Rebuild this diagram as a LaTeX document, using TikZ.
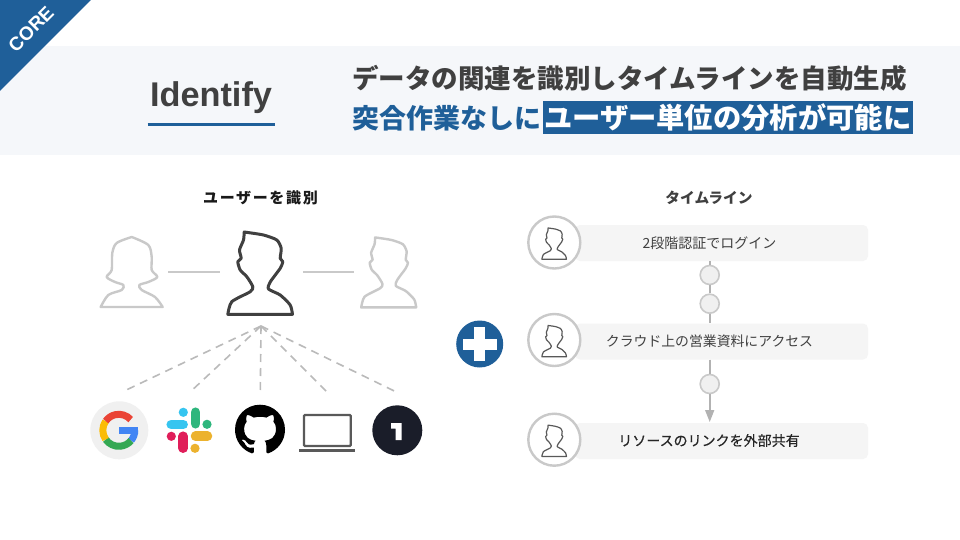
\documentclass[tikz,border=0pt]{standalone}
\usepackage{fontspec}
\setmainfont{Liberation Sans}
\newfontfamily\jp{Noto Sans CJK JP}
\usetikzlibrary{arrows.meta,svg.path,calc}
\definecolor{brandblue}{HTML}{1F5F99}
\definecolor{ink}{HTML}{404040}
\definecolor{band}{HTML}{F5F7FA}
\definecolor{pale}{HTML}{C9C9C9}
\definecolor{gred}{HTML}{EA4335}
\definecolor{gyellow}{HTML}{FBBC05}
\definecolor{ggreen}{HTML}{34A853}
\definecolor{gblue}{HTML}{4285F4}
\definecolor{sblue}{HTML}{36C5F0}
\definecolor{sgreen}{HTML}{2EB67D}
\definecolor{sred}{HTML}{E01E5A}
\definecolor{syellow}{HTML}{ECB22E}
\definecolor{onepass}{HTML}{1A1D29}
\newcommand{\fsz}[1]{\fontsize{#1}{#1}\selectfont}
\tikzset{
  x=1pt,y=-1pt,
  man/.pic={
    \path[pic actions] plot[smooth,tension=0.4] coordinates {(-16.3,-83)(3,-80)(16.3,-75)(20.7,-66.7)(19.7,-56.7)(22.3,-53.3)(19.7,-46.7)(9.7,-33)(8,-26)(19.7,-20)(29.7,-10)(32,-0.7)}
      -- (-32.7,-0.7) -- plot[smooth,tension=0.4] coordinates {(-32.7,-0.7)(-28.7,-13.3)(-10.3,-23.3)(-7.7,-28.3)(-13.7,-38.3)(-20.3,-45)(-22.7,-53.3)(-19.3,-56.7)(-21,-65)(-17,-75)(-16.3,-83)} -- cycle;
  },
  barbox/.style={fill=black!4,draw=none,rounded corners=5pt,minimum width=293pt,minimum height=36pt,inner sep=0pt},
  ringnode/.style={circle,draw=pale,line width=2.4pt,fill=white,minimum size=52pt,inner sep=0pt},
  stopdot/.style={circle,draw=pale,line width=1.6pt,fill=black!6,minimum size=19pt,inner sep=0pt},
  stepline/.style={draw=black!30,line width=1.6pt},
  dashline/.style={draw=black!27,line width=1.6pt,dash pattern=on 8pt off 6pt},
  linklabel/.style={text=ink,inner sep=0pt},
  slackbar/.style={line width=9.5pt,line cap=round},
  miniman/.style={draw=black!65,line width=1.2pt,line join=round,scale=0.38},
}
\begin{document}
\begin{tikzpicture}
\useasboundingbox (0,0) rectangle (960,540);
\fill[white] (0,0) rectangle (960,540);
% header band
\fill[band] (0,46) rectangle (960,155);
\fill[brandblue] (0,0) -- (91,0) -- (0,91) -- cycle;
\node[rotate=45,text=white,font=\bfseries\fsz{19},inner sep=0pt] (corelabel) at (31,29) {CORE};
\node[text=ink,font=\bfseries\fsz{34.3},inner sep=0pt] (identify) at (211,98) {Identify};
\coordinate (ulstart) at (147.5,125);
\coordinate (ulend) at (274.5,125);
\draw[brandblue,line width=3pt] (ulstart) -- (ulend);
\node[anchor=west,text=ink,font=\jp\bfseries\fsz{26.5},inner sep=0pt] (title1) at (352,78) {データの関連を識別しタイムラインを自動生成};
\node[anchor=west,text=brandblue,font=\jp\bfseries\fsz{27},inner sep=0pt] (title2a) at (352,118) {突合作業なしに};
\node[anchor=west,fill=brandblue,text=white,font=\jp\bfseries\fsz{28.3},inner sep=0pt,minimum width=370pt,minimum height=33pt] (title2b) at (542.5,118) {ユーザー単位の分析が可能に};
% headings
\node[font=\jp\bfseries\fsz{15}\addfontfeature{LetterSpace=11},text=black!90,inner sep=0pt] (headleft) at (260.5,198) {ユーザーを識別};
\node[font=\jp\bfseries\fsz{14.7},text=ink,inner sep=0pt] (headright) at (709,198) {タイムライン};
% people
\coordinate (midperson) at (260.5,315);
\coordinate (rightperson) at (389,308);
\pic[draw=pale,line width=2.4pt,line join=round,scale=0.85] at (rightperson) {man};
\pic[draw=black!75,line width=3pt,line join=round] at (midperson) {man};
\draw[pale,line width=2.4pt,line join=round] plot[smooth,tension=0.5] coordinates {(131.7,237)(148.3,245)(151.7,257)(151.7,270)(157.3,277)(148.3,282)(139.3,285)(141.7,290)(155,297)(162.7,307)} -- (100.7,307) -- plot[smooth,tension=0.5] coordinates {(100.7,307)(108.3,295)(121.7,290)(123.3,285)(115,282)(106.7,277)(111.7,270)(112.3,253)(116.7,243)(131.7,237)} -- cycle;
\coordinate (sl1a) at (168,272);
\coordinate (sl1b) at (219.5,272);
\coordinate (sl2a) at (303,272);
\coordinate (sl2b) at (353.5,272);
\draw[pale,line width=1.8pt] (sl1a) -- (sl1b);
\draw[pale,line width=1.8pt] (sl2a) -- (sl2b);
% dashed
\coordinate (apex) at (261,326);
\coordinate (d1) at (122.7,391.7);
\coordinate (d2) at (193.3,389);
\coordinate (d3) at (260.3,393);
\coordinate (d4) at (327.3,392.3);
\coordinate (d5) at (394.3,391);
\foreach \e in {d1,d2,d3,d4,d5} \draw[dashline] (apex) -- (\e);
% google
\node[circle,fill=black!6,minimum size=58pt,inner sep=0pt] (googlebg) at (119.3,430.3) {};
\begin{scope}[shift={(118.8,430.3)},yscale=-1,line width=7pt]
  \fill[gblue] (0,3.5) rectangle (19.5,-3.5);
  \draw[gblue] (-40:16) arc[start angle=-40,end angle=0,radius=16];
  \draw[ggreen] (215:16) arc[start angle=215,end angle=320,radius=16];
  \draw[gyellow] (145:16) arc[start angle=145,end angle=215,radius=16];
  \draw[gred] (42:16) arc[start angle=42,end angle=145,radius=16];
\end{scope}
% slack
\draw[slackbar,sblue] (171.2,424.5) -- (183.2,424.5);
\fill[sblue] (183.3,412.3) circle[radius=4.6];
\draw[slackbar,sgreen] (195.5,412.2) -- (195.5,423.8);
\fill[sgreen] (207,424.3) circle[radius=4.6];
\draw[slackbar,sred] (183.2,436.2) -- (183.2,448.2);
\fill[sred] (171.3,436.3) circle[radius=4.6];
\draw[slackbar,syellow] (195.5,436.2) -- (207.5,436.2);
\fill[syellow] (195,448.3) circle[radius=4.6];
% github
\fill[black,shift={(235,404.7)},xscale=3.125,yscale=-3.125] svg {M 8 0 C 3.58 0 0 3.58 0 8 c 0 3.54 2.29 6.53 5.47 7.59 c 0.4 0.07 0.55 -0.17 0.55 -0.38 c 0 -0.19 -0.01 -0.82 -0.01 -1.49 c -2.01 0.37 -2.53 -0.49 -2.69 -0.94 c -0.09 -0.23 -0.48 -0.94 -0.82 -1.13 c -0.28 -0.15 -0.68 -0.52 -0.01 -0.53 c 0.63 -0.01 1.08 0.58 1.23 0.82 c 0.72 1.21 1.87 0.87 2.33 0.66 c 0.07 -0.52 0.28 -0.87 0.51 -1.07 c -1.78 -0.2 -3.64 -0.89 -3.64 -3.95 c 0 -0.87 0.31 -1.59 0.82 -2.15 c -0.08 -0.2 -0.36 -1.02 0.08 -2.12 c 0 0 0.67 -0.21 2.2 0.82 c 0.64 -0.18 1.32 -0.27 2 -0.27 c 0.68 0 1.36 0.09 2 0.27 c 1.53 -1.04 2.2 -0.82 2.2 -0.82 c 0.44 1.1 0.16 1.92 0.08 2.12 c 0.51 0.56 0.82 1.27 0.82 2.15 c 0 3.07 -1.87 3.75 -3.65 3.95 c 0.29 0.25 0.54 0.73 0.54 1.48 c 0 1.07 -0.01 1.93 -0.01 2.2 c 0 0.21 0.15 0.46 0.55 0.38 C 13.71 14.53 16 11.54 16 8 c 0 -4.42 -3.58 -8 -8 -8 z};
% laptop
\draw[black!65,line width=2.2pt,rounded corners=1pt] (304,415) rectangle (350.7,446);
\draw[black!65,line width=2.2pt] (299.3,450.5) -- (355,450.5);
% one password
\node[circle,fill=onepass,minimum size=50pt,inner sep=0pt] (onebg) at (397.3,430.3) {};
\fill[white] (391,423) -- (401.7,423) -- (401.7,440) -- (395.5,440) -- (395.5,428.5) -- (391,428.5) -- cycle;
% plus
\node[circle,fill=brandblue,minimum size=47pt,inner sep=0pt] (plusbg) at (479.7,344) {};
\fill[white] ($(plusbg)+(-17,-5.5)$) rectangle ($(plusbg)+(17,5.5)$);
\fill[white] ($(plusbg)+(-5.5,-17)$) rectangle ($(plusbg)+(5.5,17)$);
% timeline
\node[barbox] (bar1) at (721.5,243) {};
\node[barbox] (bar2) at (721.5,341.5) {};
\node[barbox] (bar3) at (721.5,441) {};
\node[ringnode] (ring1) at (554.3,242.5) {};
\node[ringnode] (ring2) at (554.3,340) {};
\node[ringnode] (ring3) at (554.3,439.7) {};
\foreach \r in {ring1,ring2,ring3} \pic[miniman] at ($(\r)+(0,17)$) {man};
\node[linklabel,font=\jp\fsz{14}] (lab1) at (709.5,243) {2段階認証でログイン};
\node[linklabel,font=\jp\fsz{13.85}] (lab2) at (709.5,341.5) {クラウド上の営業資料にアクセス};
\node[linklabel,text=black!85,font=\jp\fsz{14}\addfontfeature{FakeBold=0.4}] (lab3) at (709,440.5) {リソースのリンクを外部共有};
\node[stopdot] (dot1) at (709.7,275) {};
\node[stopdot] (dot2) at (709.7,303.7) {};
\node[stopdot] (dot3) at (709.7,384) {};
\coordinate (tip) at (709.7,422);
\draw[stepline] (dot1 |- bar1.south) -- (dot1.north);
\draw[stepline] (dot1.south) -- (dot2.north);
\draw[stepline] (dot2.south) -- (dot2 |- bar2.north);
\draw[stepline] (dot3 |- bar2.south) -- (dot3.north);
\draw[stepline,-{Triangle[length=12pt,width=9pt]}] (dot3.south) -- (tip);
\end{tikzpicture}
\end{document}
